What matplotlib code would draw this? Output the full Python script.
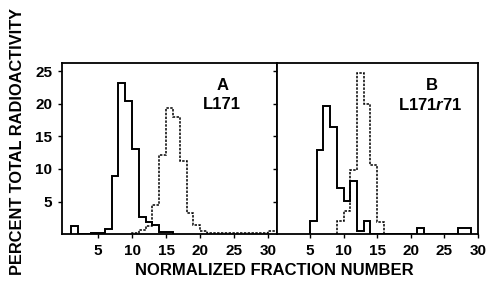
import numpy as np
import matplotlib
matplotlib.use("Agg")
import matplotlib.pyplot as plt

OUTPUT = "out.png"

# panel A (L171): percent of total radioactivity per normalized fraction
a_solid_start = 1
a_solid = [1.3, 0, 0, 0.1, 0.15, 0.8, 8.9, 23.2, 20.4, 13.1, 2.6, 1.8, 1.4, 0.35, 0.35]
a_dashed_start = 10
a_dashed = [0.2, 0.6, 1.2, 4.5, 12.1, 19.4, 18.0, 11.2, 3.3, 1.4, 0.4,
            0.2, 0.2, 0.2, 0.2, 0.2, 0.2, 0.2, 0.2, 0.2, 0.5, 0.5]

# panel B (L171r71)
b_solid_start = 5
b_solid = [2.0, 12.9, 19.7, 16.4, 7.1, 5.1, 8.1, 0.4, 2.0,
           0, 0, 0, 0, 0, 0, 0, 0.9, 0, 0, 0, 0, 0, 0.9, 0.9]
b_dashed_start = 9
b_dashed = [2.0, 3.5, 9.9, 24.8, 20.0, 10.6, 1.8]

x_ticks = [5, 10, 15, 20, 25, 30]
y_ticks = [5, 10, 15, 20, 25]

plt.rcParams["font.family"] = ["Liberation Sans", "DejaVu Sans"]
plt.rcParams["font.weight"] = "bold"
plt.rcParams["mathtext.fontset"] = "custom"
plt.rcParams["mathtext.it"] = "Liberation Sans:italic:bold"
plt.rcParams["mathtext.rm"] = "Liberation Sans:bold"

DOTTED = (0, (1.6, 0.9))


def draw_hist(ax, start, values, style):
    edges = np.arange(start, start + len(values) + 1)
    lw = 1.4 if style == "-" else 1.1
    ax.stairs(values, edges, baseline=0, fill=False, color="black",
              linewidth=lw, linestyle=style)


def style_axes(ax, xlim, show_ylabels):
    ax.set_xlim(*xlim)
    ax.set_ylim(0, 26.3)
    ax.set_xticks(x_ticks)
    ax.set_yticks(y_ticks)
    ax.tick_params(direction="out", length=3, width=1, labelsize=11, pad=4)
    if not show_ylabels:
        ax.set_yticklabels([])
    for s in ax.spines.values():
        s.set_linewidth(1.3)


def main():
    fig = plt.figure(figsize=(4.9, 2.83), dpi=100)
    ax_a = fig.add_axes([0.1265, 0.1731, 0.4388, 0.6042])
    ax_b = fig.add_axes([0.5653, 0.1731, 0.4102, 0.6042])

    draw_hist(ax_a, a_solid_start, a_solid, "-")
    draw_hist(ax_a, a_dashed_start, a_dashed, DOTTED)
    draw_hist(ax_b, b_solid_start, b_solid, "-")
    draw_hist(ax_b, b_dashed_start, b_dashed, DOTTED)

    style_axes(ax_a, (-0.3, 31.3), True)
    style_axes(ax_b, (0.1, 29.8), False)

    ax_a.text(0.745, 0.87, "A", transform=ax_a.transAxes, ha="center",
              va="center", fontsize=12, fontweight="bold")
    ax_a.text(0.745, 0.755, "L171", transform=ax_a.transAxes, ha="center",
              va="center", fontsize=12, fontweight="bold")
    ax_b.text(0.77, 0.87, "B", transform=ax_b.transAxes, ha="center",
              va="center", fontsize=12, fontweight="bold")
    ax_b.text(0.76, 0.755, r"L171$\it{r}$71", transform=ax_b.transAxes,
              ha="center", va="center", fontsize=12, fontweight="bold")

    fig.text(0.56, 0.045, "NORMALIZED FRACTION NUMBER", ha="center",
             va="center", fontsize=12, fontweight="bold")
    fig.text(0.035, 0.5, "PERCENT TOTAL RADIOACTIVITY", ha="center",
             va="center", rotation=90, fontsize=11.8, fontweight="bold")

    fig.savefig(OUTPUT, dpi=100)


if __name__ == "__main__":
    main()
